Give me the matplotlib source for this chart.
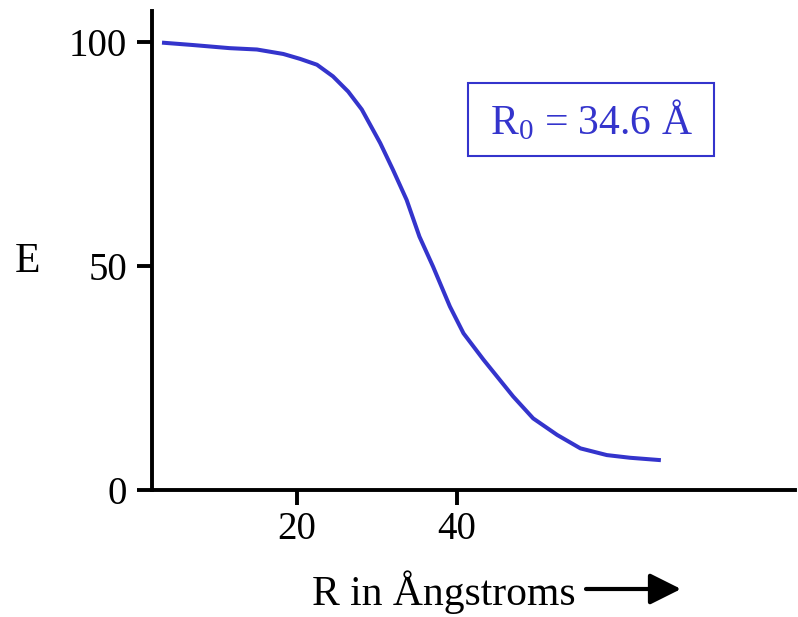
import matplotlib
matplotlib.use("Agg")
import matplotlib.pyplot as plt
from matplotlib.patches import Rectangle

# FRET efficiency vs distance
r_ang = [3.4, 7.0, 11.6, 15.0, 18.3, 20.4, 22.5, 24.5, 26.4, 28.1, 30.4,
         32.0, 33.7, 35.3, 37.0, 39.1, 40.8, 43.3, 47.0, 49.5, 52.5,
         55.4, 58.7, 61.6, 65.2]
eff = [99.9, 99.4, 98.7, 98.4, 97.4, 96.3, 95.0, 92.4, 89.0, 85.0, 77.5,
       71.5, 64.8, 56.6, 49.9, 41.0, 35.0, 29.1, 20.9, 16.0, 12.3,
       9.3, 7.8, 7.2, 6.7]
x_ticks = [20, 40]
y_ticks = [0, 50, 100]
r0_label = "R$_\\mathregular{0}$ = 34.6 Å"

plt.rcParams['font.family'] = ['Liberation Serif', 'DejaVu Serif']
plt.rcParams['mathtext.default'] = 'regular'

blue = '#3434cc'
W, H = 798, 617

fig = plt.figure(figsize=(7.98, 6.17), dpi=100)
ax = fig.add_axes([152/W, 1 - 490/H, (795-152)/W, (490-11)/H])

ax.plot(r_ang, eff, color=blue, lw=2.9, solid_joinstyle='round')

ax.set_xlim(1.9, 82.2)
ax.set_ylim(0, 107)
ax.set_xticks(x_ticks)
ax.set_yticks(y_ticks)
ax.tick_params(labelsize=28, width=2.8, length=11, direction='out')
ax.tick_params(axis='x', pad=4)
ax.tick_params(axis='y', pad=7)
for s in ['top', 'right']:
    ax.spines[s].set_visible(False)
for s in ['left', 'bottom']:
    ax.spines[s].set_linewidth(2.8)

# R0 box
fig.patches.append(Rectangle((468/W, 1 - 156/H), 246/W, 73/H, transform=fig.transFigure,
                             fc='white', ec=blue, lw=1.5))
fig.text(591/W, 1 - 121/H, r0_label, color=blue, fontsize=30,
         ha='center', va='center')

fig.text(27/W, 1 - 262/H, "E", fontsize=30, ha='center', va='center')
fig.text(444/W, 1 - 592/H, "R in Ångstroms", fontsize=30, ha='center', va='center')

ax.annotate("", xy=(681, H - 589), xytext=(586, H - 589),
            xycoords='figure pixels', textcoords='figure pixels',
            arrowprops=dict(arrowstyle='-|>,head_length=1.0,head_width=0.5',
                            mutation_scale=19, lw=3, color='black',
                            shrinkA=0, shrinkB=0))

fig.savefig("out.png", dpi=100)
